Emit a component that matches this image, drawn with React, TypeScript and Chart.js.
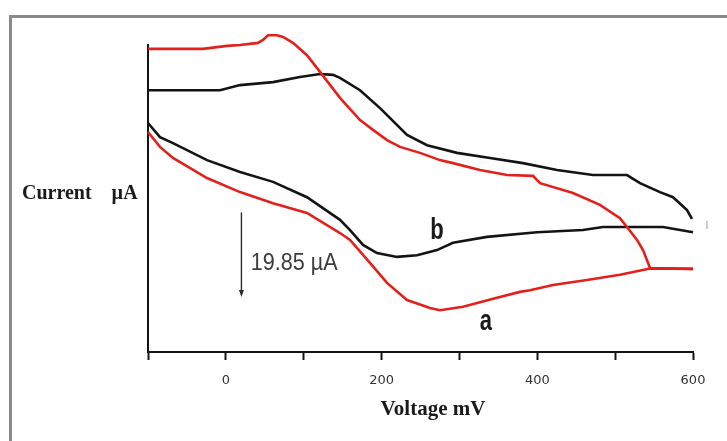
import React, { useEffect, useRef } from 'react';
import { Chart, registerables } from 'chart.js';

Chart.register(...registerables);

// Curve a (red): forward (upper) branch and reverse (lower) branch, voltage in mV, current in µA
const aForwardV = [-100, -29.4, 1.5, 18.2, 41.3, 47.7, 54.1, 65.7, 73.4, 86.2, 104.2, 120.9, 146.6, 172.3, 189.0, 207.0, 223.7, 249.4, 275.0, 291.7, 326.4, 361.1, 394.5, 403.5, 445.9, 480.5, 506.2, 515.2, 528.1, 535.8, 544.8, 600];
const aForwardI = [71.1, 71.1, 71.8, 72.0, 72.5, 73.2, 74.3, 74.3, 73.9, 72.5, 69.6, 65.7, 59.6, 54.4, 52.1, 49.7, 48.1, 46.7, 45.0, 44.3, 42.7, 41.5, 41.3, 39.6, 37.3, 34.5, 31.4, 29.3, 26.3, 23.9, 19.7, 19.5];
const aReverseV = [600, 544.8, 506.2, 463.8, 420.2, 390.6, 377.8, 348.3, 304.6, 275.0, 262.2, 232.7, 207.0, 185.1, 159.5, 146.6, 104.2, 60.6, 18.2, -24.2, -67.9, -84.6, -100];
const aReverseI = [19.5, 19.6, 18.1, 16.9, 15.7, 14.5, 14.1, 12.7, 10.6, 9.8, 10.3, 12.2, 16.2, 20.9, 26.3, 27.9, 32.6, 34.9, 37.5, 40.8, 45.5, 48.1, 51.6];

// Curve b (black)
const bForwardV = [-100, -7.5, 18.2, 60.6, 95.2, 120.9, 137.6, 146.6, 172.3, 198.0, 232.7, 258.4, 296.9, 339.3, 381.6, 425.3, 471.5, 515.2, 531.9, 557.6, 574.3, 592.3, 598.7];
const bForwardI = [61.4, 61.4, 62.6, 63.3, 64.5, 65.2, 65.0, 64.3, 61.4, 57.2, 50.9, 48.5, 46.7, 45.5, 44.3, 42.7, 41.5, 41.5, 39.6, 37.5, 36.3, 33.3, 31.2];
const bReverseV = [600, 561.5, 484.4, 458.7, 399.6, 335.4, 291.7, 271.2, 245.5, 219.8, 194.1, 176.2, 159.5, 146.6, 104.2, 60.6, 18.2, -24.2, -67.9, -84.6, -100];
const bReverseI = [28.1, 29.3, 29.3, 28.6, 28.1, 27.0, 25.6, 23.9, 22.7, 22.3, 23.2, 25.1, 28.6, 31.0, 36.3, 39.9, 42.2, 45.0, 49.0, 50.4, 53.7];

// Axis
const xMin = -100;
const xMax = 600;
const xStep = 100;
const xLabelled = [0, 200, 400, 600];
const yMin = 0;
const yMax = 72;

// Annotations (data coordinates)
const scaleBarV = 20;
const scaleBarTop = 32.75;
const scaleBarBottom = 12.9;
const scaleBarText = '19.85 µA';
const scaleBarTextPos = [32, 20.9];
const labelB = { text: 'b', x: 271, y: 28.4 };
const labelA = { text: 'a', x: 334, y: 7.0 };
const strayMark = { text: 'l', x: 618, y: 29.5 };

const RED = '#e3201b';
const BLACK = '#141414';

const pts = (xs: number[], ys: number[]) => xs.map((x, i) => ({ x, y: ys[i] }));

export default function App() {
  const ref = useRef<HTMLCanvasElement | null>(null);
  useEffect(() => {
    if (!ref.current) return;
    const decor = {
      id: 'decor',
      beforeDraw(chart: any) {
        const ctx = chart.ctx;
        ctx.save();
        ctx.fillStyle = '#ffffff';
        ctx.fillRect(0, 0, chart.width, chart.height);
        ctx.fillStyle = '#8a8a8a';
        ctx.fillRect(9, 15, 3, chart.height);
        ctx.fillRect(9, 15, chart.width, 3);
        ctx.restore();
      },
      afterDraw(chart: any) {
        const ctx = chart.ctx;
        const xs = chart.scales.x;
        const ys = chart.scales.y;
        ctx.save();
        ctx.fillStyle = '#1a1a1a';
        ctx.font = 'bold 20px "Liberation Serif", "Times New Roman", serif';
        ctx.textBaseline = 'middle';
        ctx.textAlign = 'left';
        ctx.fillText('Current    µA', 22, 194);
        ctx.textAlign = 'center';
        ctx.font = 'bold 21px "Liberation Serif", "Times New Roman", serif';
        ctx.fillText('Voltage mV', 433, 410);

        const stretched = (text: string, px: number, py: number, font: string, sx: number, sy: number, color: string, align: CanvasTextAlign) => {
          ctx.save();
          ctx.translate(px, py);
          ctx.scale(sx, sy);
          ctx.font = font;
          ctx.fillStyle = color;
          ctx.textAlign = align;
          ctx.textBaseline = 'middle';
          ctx.fillText(text, 0, 0);
          ctx.restore();
        };
        // scale bar arrow
        const ax = xs.getPixelForValue(scaleBarV);
        const at = ys.getPixelForValue(scaleBarTop);
        const ab = ys.getPixelForValue(scaleBarBottom);
        ctx.strokeStyle = '#2a2a2a';
        ctx.lineWidth = 1.4;
        ctx.beginPath();
        ctx.moveTo(ax, at);
        ctx.lineTo(ax, ab - 5);
        ctx.stroke();
        ctx.fillStyle = '#2a2a2a';
        ctx.beginPath();
        ctx.moveTo(ax - 2.5, ab - 7);
        ctx.lineTo(ax + 2.5, ab - 7);
        ctx.lineTo(ax, ab);
        ctx.closePath();
        ctx.fill();

        stretched(scaleBarText, xs.getPixelForValue(scaleBarTextPos[0]), ys.getPixelForValue(scaleBarTextPos[1]),
          '20px "Liberation Sans", Arial, sans-serif', 1.08, 1.2, '#3c3c3c', 'left');
        stretched(labelB.text, xs.getPixelForValue(labelB.x), ys.getPixelForValue(labelB.y),
          'bold 22px "Liberation Sans", Arial, sans-serif', 1, 1.3, '#1a1a1a', 'center');
        stretched(labelA.text, xs.getPixelForValue(labelA.x), ys.getPixelForValue(labelA.y),
          'bold 22px "Liberation Sans", Arial, sans-serif', 1, 1.3, '#1a1a1a', 'center');
        stretched(strayMark.text, xs.getPixelForValue(strayMark.x), ys.getPixelForValue(strayMark.y),
          '11px "Liberation Sans", Arial, sans-serif', 1, 1, '#9aa0a0', 'center');
        ctx.restore();
      },
    };

    const ds = (data: any[], color: string) => ({
      data,
      borderColor: color,
      backgroundColor: color,
      borderWidth: 2.6,
      showLine: true,
      pointRadius: 0,
      tension: 0,
      clip: false,
      fill: false,
    });

    const chart = new Chart(ref.current, {
      type: 'scatter',
      data: {
        datasets: [
          ds(pts(aForwardV, aForwardI), RED),
          ds(pts(aReverseV, aReverseI), RED),
          ds(pts(bForwardV, bForwardI), BLACK),
          ds(pts(bReverseV, bReverseI), BLACK),
        ],
      },
      options: {
        responsive: false,
        animation: false,
        devicePixelRatio: 1,
        layout: { padding: { left: 148, right: 34, top: 45, bottom: 0 } },
        plugins: { legend: { display: false }, tooltip: { enabled: false }, title: { display: false } },
        scales: {
          x: {
            type: 'linear',
            min: xMin,
            max: xMax,
            afterFit: (s: any) => { s.height = 89; },
            ticks: {
              stepSize: xStep,
              autoSkip: false,
              maxRotation: 0,
              padding: 13,
              color: '#333333',
              font: { family: '"DejaVu Sans", sans-serif', size: 13 },
              callback: (v: any) => (xLabelled.includes(Number(v)) ? String(v) : ''),
            },
            grid: { drawOnChartArea: false, drawTicks: true, tickLength: 8, tickColor: '#141414', tickWidth: 2, color: '#141414' },
            border: { display: true, color: '#141414', width: 2 },
          },
          y: {
            type: 'linear',
            min: yMin,
            max: yMax,
            afterFit: (s: any) => { s.width = 0; },
            ticks: { display: false },
            grid: { display: false, drawTicks: false },
            border: { display: true, color: '#141414', width: 2 },
          },
        },
      },
      plugins: [decor],
    } as any);
    return () => chart.destroy();
  }, []);

  return (
    <div style={{ position: 'fixed', left: 0, top: 0, width: 727, height: 441, background: '#fff' }}>
      <canvas ref={ref} width={727} height={441} style={{ display: 'block' }} />
    </div>
  );
}
